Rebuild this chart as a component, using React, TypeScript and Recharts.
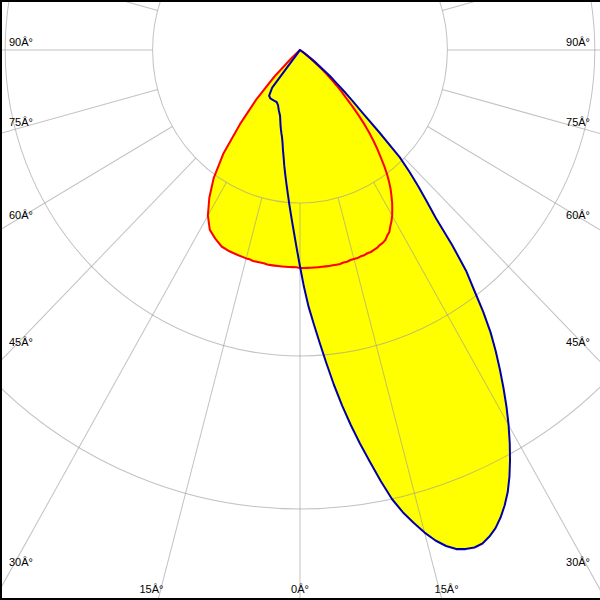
import { RadarChart, Radar, PolarGrid, PolarAngleAxis, PolarRadiusAxis } from 'recharts';

// gamma angle in degrees, 0 = straight down, negative = left half
// (finer steps where the blue lobe bends sharply)
const gammas = [
  -60, -57.5, -55, -52.5, -50, -47.5, -45, -42.5, -40, -37.5, -35, -32.5, -30, -27.5, -25, -22.5, -20, -17.5, -15,
  -14, -13, -12, -11, -10, -9, -8, -7, -6, -5, -4, -3, -2, -1,
  0, 1, 2, 3, 4, 5, 6, 7, 8, 9, 10, 11, 12, 13, 14, 15, 16, 17, 18, 19, 20,
  21, 22, 23, 24, 25, 26, 27, 28, 29, 30, 31, 32, 33, 34, 35, 36, 37, 38, 39, 40,
  41, 42, 43, 44, 45, 46, 47, 48, 49, 50, 52.5, 55, 57.5, 60,
];

// luminous intensity (cd), red plane
const redPlane = [
  0, 0, 0, 0, 3, 15, 49, 88, 127, 171, 204, 229, 250, 265, 272, 278, 280, 281, 282,
  282, 283, 283, 283, 283, 284, 284, 284, 284, 284, 284, 284, 284, 284,
  285, 285, 285, 285, 285, 285, 285, 285, 285, 285, 285, 285, 284, 284, 283, 283, 283, 282, 282, 281, 281,
  280, 279, 277, 276, 274, 270, 267, 261, 256, 250, 243, 236, 228, 220, 211, 201, 190, 178, 167, 155,
  143, 130, 116, 102, 88, 78, 67, 57, 47, 38, 18, 6, 0, 0,
];

// luminous intensity (cd), blue plane
const bluePlane = [
  0, 0, 0, 0, 0, 0, 0, 0, 0, 62, 73, 75, 75, 75, 75, 78, 84, 90, 102,
  107, 112, 117, 124, 133, 142, 153, 164, 176, 189, 204, 220, 238, 259,
  283, 310, 336, 359, 384, 411, 440, 468, 495, 521, 547, 574, 600, 620, 637, 653, 667, 678, 686, 690, 692,
  691, 686, 679, 669, 657, 643, 626, 607, 587, 566, 544, 521, 498, 475, 451, 423, 392, 366, 328, 287,
  262, 240, 218, 195, 152, 116, 97, 80, 64, 53, 25, 8, 0, 0,
];

const angleTicks = [-90, -75, -60, -45, -30, -15, 0, 15, 30, 45, 60, 75, 90];
const ringValues = [200, 400, 600];

const W = 600;
const SY = 1.038; // the source picture is stretched a little vertically
const H = 578;
const CX = 300;
const CY = 50 / SY;
const PX_PER_CD = 0.737;
const MAX_CD = 1000;
const OUTER = MAX_CD * PX_PER_CD;
const INNER_GRID = ringValues[0] * PX_PER_CD;

const FONT = '"Liberation Sans", Arial, sans-serif';

const data = gammas.map((g, i) => ({ g, red: redPlane[i], blue: bluePlane[i] }));

const spokes = Array.from({ length: 24 }, (_, i) => i * 15);

function AngleLabel(props: any) {
  const { x, y, payload } = props;
  const g = Number(payload.value);
  const dx = x - CX;
  const dy = (y - CY) * SY;
  const cyPost = CY * SY;
  let tx = CX;
  let ty = 593;
  let anchor: 'start' | 'middle' | 'end' = 'middle';
  if (g !== 0 && Math.abs(g) < 30) {
    const t = (583 - cyPost) / dy;
    tx = CX + t * dx + (g < 0 ? 1 : -3);
    anchor = g < 0 ? 'end' : 'start';
  } else if (g !== 0) {
    const edge = g < 0 ? 11 : W - 11;
    const t = (edge - CX) / dx;
    ty = cyPost + t * dy - 4;
    tx = g < 0 ? 9 : W - 10;
    anchor = g < 0 ? 'start' : 'end';
  }
  return (
    <text x={tx} y={ty / SY} textAnchor={anchor} fontSize={11} fontFamily={FONT} fill="#000">
      {`${Math.abs(g)}\u00C2\u00B0`}
    </text>
  );
}

function RingLabel(props: any) {
  const { x, y, payload } = props;
  return (
    <text x={x} y={y - 2.5 / SY} textAnchor="middle" fontSize={11} fontFamily={FONT} fill="#000">
      {payload.value}
    </text>
  );
}

const layer: React.CSSProperties = { position: 'absolute', left: 0, top: 0 };
const margin = { top: 0, right: 0, bottom: 0, left: 0 };

export default function App() {
  return (
    <div style={{ position: 'relative', width: W, height: 600, overflow: 'hidden', background: '#fff' }}>
      <style>{'body{margin:0}'}</style>
      <div
        style={{
          position: 'absolute',
          left: 0,
          top: 0,
          width: W,
          height: H,
          transform: `scaleY(${SY})`,
          transformOrigin: '0 0',
        }}
      >
        {/* yellow fills */}
        <div style={layer}>
          <RadarChart width={W} height={H} data={data} cx={CX} cy={CY} outerRadius={OUTER}
            startAngle={180} endAngle={360} margin={margin}>
            <PolarAngleAxis dataKey="g" type="number" domain={[-90, 90]} tick={false} axisLine={false} tickLine={false} />
            <PolarRadiusAxis domain={[0, MAX_CD]} type="number" tick={false} axisLine={false} />
            <Radar dataKey="red" stroke="none" fill="#ffff00" fillOpacity={1} isAnimationActive={false} />
            <Radar dataKey="blue" stroke="none" fill="#ffff00" fillOpacity={1} isAnimationActive={false} />
          </RadarChart>
        </div>

        {/* grid, spokes start at the 200 cd ring */}
        <div style={layer}>
          <RadarChart width={W} height={H} data={data} cx={CX} cy={CY} innerRadius={INNER_GRID}
            outerRadius={OUTER} startAngle={180} endAngle={360} margin={margin}>
            <PolarGrid
              gridType="circle"
              polarAngles={spokes}
              polarRadius={ringValues.map((v) => v * PX_PER_CD)}
              stroke="#999999"
              strokeOpacity={0.6}
            />
            <PolarAngleAxis dataKey="g" type="number" domain={[-90, 90]} ticks={angleTicks} tickCount={13}
              tick={AngleLabel} axisLine={false} tickLine={false} />
            <PolarRadiusAxis angle={270} domain={[ringValues[0], MAX_CD]} type="number" tickCount={5}
              tick={RingLabel} axisLine={false} />
          </RadarChart>
        </div>

        {/* outlines */}
        <div style={layer}>
          <RadarChart width={W} height={H} data={data} cx={CX} cy={CY} outerRadius={OUTER}
            startAngle={180} endAngle={360} margin={margin}>
            <PolarAngleAxis dataKey="g" type="number" domain={[-90, 90]} tick={false} axisLine={false} tickLine={false} />
            <PolarRadiusAxis domain={[0, MAX_CD]} type="number" tick={false} axisLine={false} />
            <Radar dataKey="red" stroke="#ff0000" strokeWidth={2} fill="none" fillOpacity={0}
              strokeLinejoin="round" isAnimationActive={false} />
            <Radar dataKey="blue" stroke="#0000aa" strokeWidth={2} fill="none" fillOpacity={0}
              strokeLinejoin="round" isAnimationActive={false} />
          </RadarChart>
        </div>
      </div>
      <div
        style={{
          ...layer,
          width: W,
          height: 600,
          boxSizing: 'border-box',
          borderLeft: '2px solid #000',
          borderTop: '2px solid #000',
          borderBottom: '2px solid #000',
          pointerEvents: 'none',
        }}
      />
    </div>
  );
}
